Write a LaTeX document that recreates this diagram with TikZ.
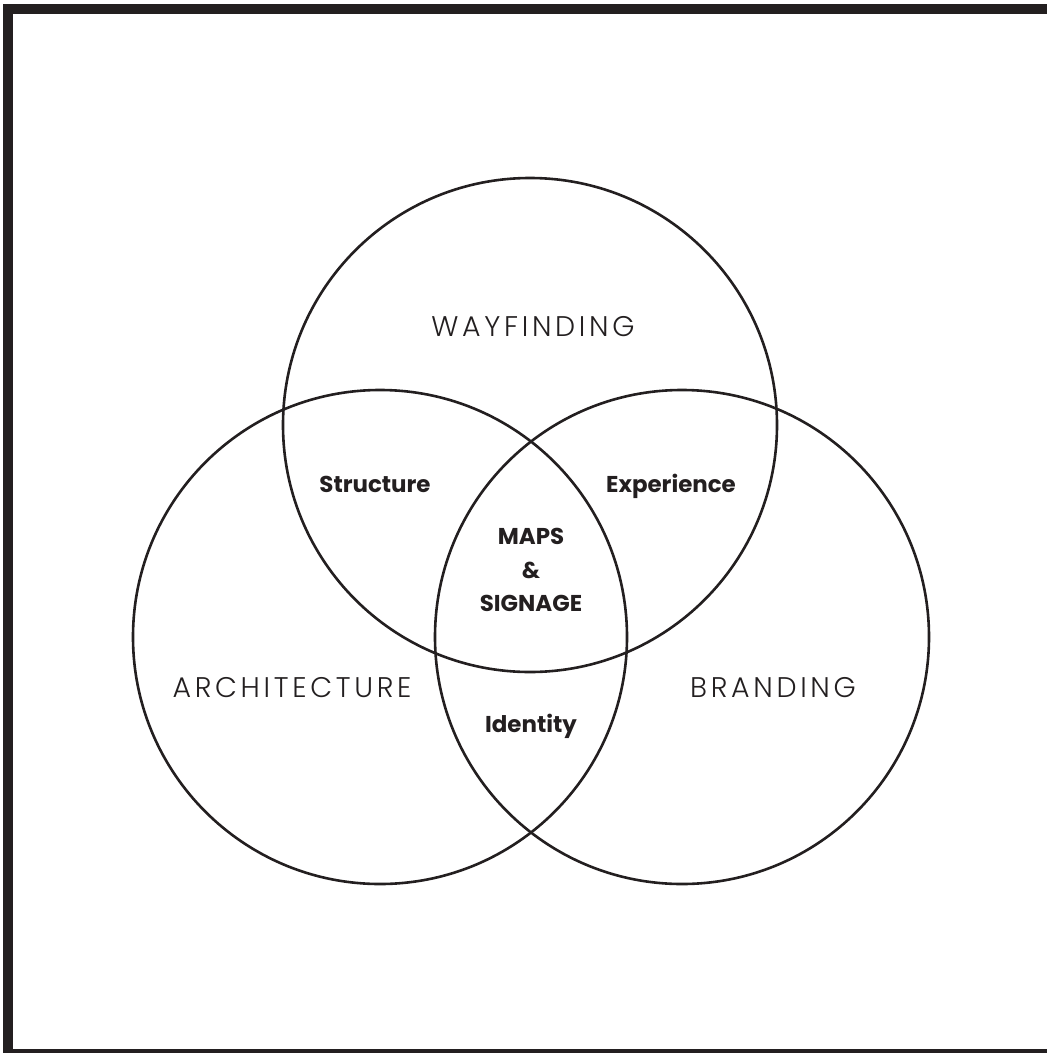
\documentclass[tikz,border=0pt]{standalone}
\usepackage{fontspec}
\usepackage{xcolor}
\usetikzlibrary{positioning}
\setmainfont{Poppins}
\newfontfamily\setlabelfont{Poppins Light}[LetterSpace=13]
\definecolor{vennInk}{RGB}{35, 31, 32}

\begin{document}
\begin{tikzpicture}[
        x=1bp, y=-1bp,
        setcircle/.style={circle, draw=vennInk, line width=2.6bp, minimum size=494bp, inner sep=0pt},
        setlabel/.style={font=\setlabelfont\fontsize{28.5}{32}\selectfont, color=vennInk, inner sep=0pt},
        overlap/.style={font=\fontsize{23}{34}\selectfont\bfseries, color=vennInk, align=center, inner sep=0pt},
        frame/.style={fill=vennInk}
    ]
    \useasboundingbox (0,0) rectangle (1047,1053);

    % Cadre
    \fill[frame] (3,4) rectangle (13,1053);
    \fill[frame] (3,4) rectangle (1047,14);
    \fill[frame] (3,1049) rectangle (1047,1053);

    % Cercles
    \node[setcircle] (wayfinding) at (530,425) {};
    \node[setcircle] (architecture) at (380,637) {};
    \node[setcircle] (branding) at (682,637) {};

    % Ensembles
    \node[setlabel] (wayLabel) at (533,327) {WAYFINDING};
    \node[setlabel] (archLabel) at (292,688) {ARCHITECTURE};
    \node[setlabel] (brandLabel) at (773,688) {BRANDING};

    % Intersections
    \node[overlap] (structure) at (375,484) {Structure};
    \node[overlap] (experience) at (671,486) {Experience};
    \node[overlap] (maps) at (531,570) {MAPS\\\&\\SIGNAGE};
    \node[overlap] (identity) at (531,726) {Identity};

\end{tikzpicture}
\end{document}
